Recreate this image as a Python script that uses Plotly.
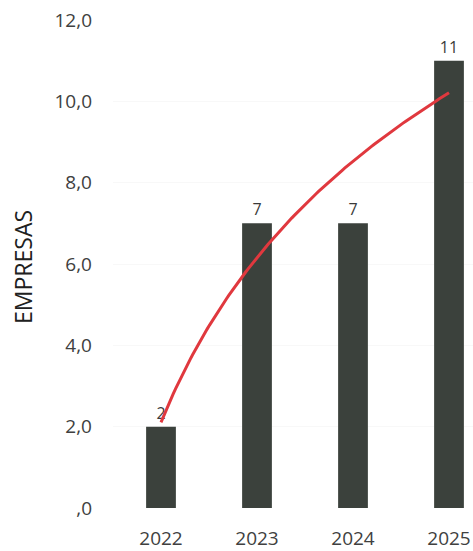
import numpy as np
import plotly.graph_objects as go

# Empresas por año
years = ["2022", "2023", "2024", "2025"]
empresas = [2, 7, 7, 11]
y_ticks = [0, 2, 4, 6, 8, 10, 12]
y_tick_text = [",0", "2,0", "4,0", "6,0", "8,0", "10,0", "12,0"]

x_pos = list(range(len(years)))

# Línea de tendencia logarítmica: y = a + b*ln(t), t = 1..n
t = np.arange(1, len(empresas) + 1)
b, a = np.polyfit(np.log(t), np.array(empresas, dtype=float), 1)
t_fine = np.linspace(1, len(empresas), 120)
trend = a + b * np.log(t_fine)

fig = go.Figure()
fig.add_trace(go.Bar(
    x=x_pos, y=empresas, width=0.31,
    marker=dict(color="#3b413c", line=dict(width=0)),
    text=[str(v) for v in empresas], textposition="outside",
    textfont=dict(family="Open Sans", size=16, color="#3a3a3a"),
    cliponaxis=False, showlegend=False,
))
fig.add_trace(go.Scatter(
    x=t_fine - 1, y=trend, mode="lines",
    line=dict(color="#e0383e", width=3), showlegend=False,
))

fig.update_layout(
    width=473, height=551,
    margin=dict(l=113, r=0, t=20, b=41),
    paper_bgcolor="white", plot_bgcolor="white",
    font=dict(family="Open Sans", color="#404040"),
    xaxis=dict(
        range=[-0.5, 3.25], tickmode="array", tickvals=x_pos, ticktext=years,
        showgrid=False, zeroline=False, showline=False,
        tickfont=dict(size=19, color="#404040"), ticks="", ticklabelstandoff=17,
    ),
    yaxis=dict(
        range=[0, 12], tickmode="array", tickvals=y_ticks, ticktext=y_tick_text,
        showgrid=True, gridcolor="#f8f8f8", gridwidth=1,
        zeroline=False, showline=False,
        tickfont=dict(size=19, color="#404040"), ticks="", ticklabelstandoff=20,
    ),
    annotations=[dict(
        text="EMPRESAS", textangle=-90, showarrow=False,
        xref="paper", yref="paper", x=(23 - 113) / 360, y=(510 - 268) / 490,
        xanchor="center", yanchor="middle",
        font=dict(family="Open Sans", size=23, color="#202020"),
    )],
)

fig.write_html("out.html")
